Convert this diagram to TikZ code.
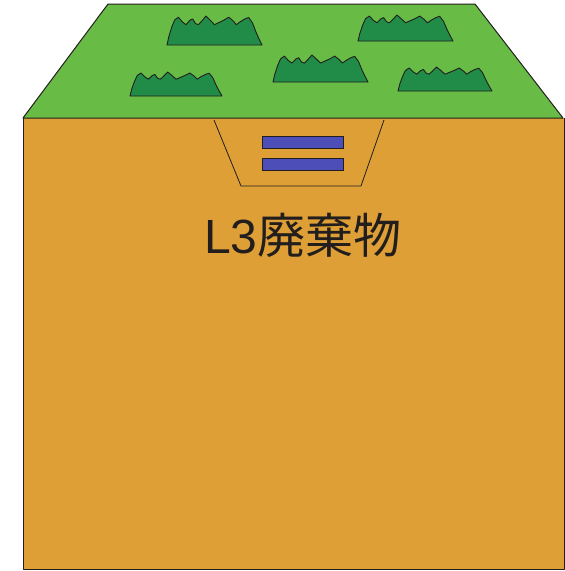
\documentclass[tikz,border=0pt]{standalone}
\usepackage{fontspec}
\newfontfamily\jpfont{Noto Sans CJK JP}
\newfontfamily\latinfont{Liberation Sans}
\definecolor{grassfield}{RGB}{104,188,70}
\definecolor{soil}{RGB}{222,160,54}
\definecolor{tuftgreen}{RGB}{32,140,72}
\definecolor{wasteblue}{RGB}{78,78,184}
\definecolor{edge}{RGB}{34,30,30}
\tikzset{
  outline/.style={draw=edge, line width=1pt, line join=round},
  tuft/.pic={
    \fill[tuftgreen, draw=edge, line width=0.9pt, line join=round]
      (0,0) -- (0.02,-0.3) -- (0.05,-0.62) -- (0.08,-0.86) -- (0.12,-0.96)
      -- (0.16,-0.8) -- (0.2,-0.7) -- (0.24,-0.85) -- (0.27,-0.9)
      -- (0.3,-0.74) -- (0.33,-0.7) -- (0.37,-0.84) -- (0.41,-1)
      -- (0.46,-0.84) -- (0.5,-0.7) -- (0.55,-0.78) -- (0.6,-0.86)
      -- (0.65,-0.96) -- (0.7,-0.82) -- (0.73,-0.7) -- (0.77,-0.8)
      -- (0.82,-0.9) -- (0.86,-0.95) -- (0.9,-0.76) -- (0.94,-0.42)
      -- (0.97,-0.2) -- (1,0) -- cycle;
  },
  wastebar/.style={fill=wasteblue, draw=edge, line width=0.8pt}
}
\begin{document}
\begin{tikzpicture}[x=1pt,y=-1pt]
  \useasboundingbox (0,0) rectangle (565,571);
  \fill[white] (0,0) rectangle (565,571);
  % soil body
  \fill[soil] (23,118) rectangle (564,569);
  \draw[outline] (23,118) -- (23,569) -- (564,569) -- (564,118);
  % grass-covered top
  \fill[grassfield] (23,118) -- (108,4) -- (475,4) -- (563,118) -- cycle;
  \draw[outline] (23,118) -- (108,4) -- (475,4) -- (563,118) -- cycle;
  % grass tufts
  \pic[xscale=95, yscale=29] at (167,45) {tuft};
  \pic[xscale=92, yscale=24] at (130,96) {tuft};
  \pic[xscale=95, yscale=27] at (273,82) {tuft};
  \pic[xscale=95, yscale=26] at (358,41) {tuft};
  \pic[xscale=94, yscale=24] at (398,91) {tuft};
  % disposal trench
  \fill[soil] (214,120) -- (241,186) -- (361,186) -- (384,120) -- cycle;
  \draw[outline, line width=0.8pt] (214,120) -- (241,186) -- (361,186) -- (384,120);
  % waste packages
  \draw[wastebar] (262,136) rectangle (343,148);
  \draw[wastebar] (262,158) rectangle (343,170);
  % label
  \node[font=\fontsize{48}{48}\selectfont, text=edge, inner sep=0pt]
    (label) at (303,235) {{\latinfont L3}{\jpfont 廃棄物}};
\end{tikzpicture}
\end{document}
